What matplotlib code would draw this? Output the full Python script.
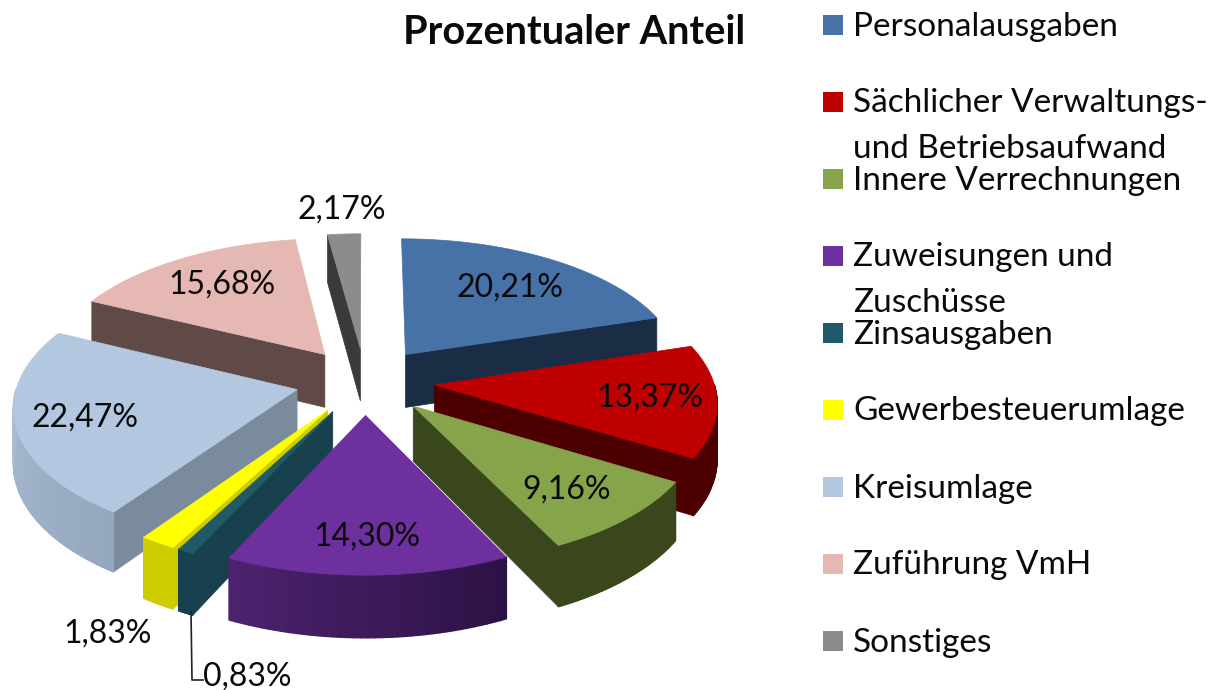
import numpy as np
from matplotlib import pyplot as plt
from matplotlib.collections import PolyCollection
from matplotlib.patches import Polygon, Rectangle

plt.rcParams['font.family'] = ['Lato', 'DejaVu Sans']

title = 'Prozentualer Anteil'
categories = ['Personalausgaben', 'Sächlicher Verwaltungs-\nund Betriebsaufwand', 'Innere Verrechnungen',
              'Zuweisungen und\nZuschüsse', 'Zinsausgaben', 'Gewerbesteuerumlage', 'Kreisumlage',
              'Zuführung VmH', 'Sonstiges']
values = [20.21, 13.37, 9.16, 14.30, 0.83, 1.83, 22.47, 15.68, 2.17]
labels = ['20,21%', '13,37%', '9,16%', '14,30%', '0,83%', '1,83%', '22,47%', '15,68%', '2,17%']
label_pos = [(510, 288), (650, 398), (567, 490), (367, 537), (247, 677), (108, 634), (85, 418), (222, 285), (342, 210)]

top_colors = ['#4672a8', '#bf0000', '#86a44a', '#6e2f9f', '#215968', '#ffff00', '#b3c8e0', '#e6b8b4', '#8c8c8c']
wall_colors = ['#1a2d45', '#4d0000', '#3a471c', '#3a1a5c', '#17414e', '#cccc00', '#7a8b9e', '#5f4a47', '#3a3a3a']
rim_left = ['#1a2d45', '#4d0000', '#3a471c', '#4e2370', '#17414e', '#cccc00', '#a9bbd2', '#5f4a47', '#3a3a3a']
rim_right = ['#1a2d45', '#4d0000', '#3a471c', '#2b1245', '#17414e', '#cccc00', '#94a7bf', '#5f4a47', '#3a3a3a']

# Pie geometry in picture pixels, with a simple perspective towards the viewer
CX, CY = 365, 381
SX, SY = 279, 134
PERSP = 0.11
EXPLODE = 0.25
DEPTH = 54


def project(x, y, z=0):
    s = 1 / (1 - PERSP * y)
    return CX + SX * x * s, CY + SY * y * s + z * DEPTH * s


def arc(apex, a, b, z=0, n=60):
    t = np.linspace(a, b, n)
    return project(apex[0] + np.sin(t), apex[1] - np.cos(t), z)


def wall(apex, ang):
    x = [apex[0], apex[0] + np.sin(ang)]
    y = [apex[1], apex[1] - np.cos(ang)]
    px1, py1 = project(np.array(x), np.array(y))
    px2, py2 = project(np.array(x), np.array(y), 1)
    return np.column_stack([np.r_[px1, px2[::-1]], np.r_[py1, py2[::-1]]])


def hex2rgb(c):
    return np.array([int(c[i:i + 2], 16) / 255 for i in (1, 3, 5)])


def draw_slice(ax, i, a, b):
    mid = (a + b) / 2
    apex = (EXPLODE * np.sin(mid), -EXPLODE * np.cos(mid))
    # side walls, only the ones facing the viewer
    if np.sin(a) < 0:
        ax.add_patch(Polygon(wall(apex, a), fc=wall_colors[i], ec=wall_colors[i], lw=0.5))
    if np.sin(b) > 0:
        ax.add_patch(Polygon(wall(apex, b), fc=wall_colors[i], ec=wall_colors[i], lw=0.5))
    # outer rim for the front half
    lo, hi = max(a, np.pi / 2), min(b, 3 * np.pi / 2)
    if hi > lo:
        t = np.linspace(lo, hi, 41)
        tx, ty = arc(apex, lo, hi, 0, 41)
        bx, by = arc(apex, lo, hi, 1, 41)
        c_r, c_l = hex2rgb(rim_right[i]), hex2rgb(rim_left[i])
        # solid base first, otherwise the seams between the strips show up
        base = np.column_stack([np.r_[tx, bx[::-1]], np.r_[ty, by[::-1]]])
        ax.add_patch(Polygon(base, fc=(c_r + c_l) / 2, ec='none'))
        quads, cols = [], []
        for k in range(40):
            quads.append([(tx[k], ty[k]), (tx[k + 1], ty[k + 1]), (bx[k + 1], by[k + 1]), (bx[k], by[k])])
            f = (t[k] - lo) / (hi - lo)
            cols.append(c_r + (c_l - c_r) * f)
        ax.add_collection(PolyCollection(quads, facecolors=cols, edgecolors=cols, linewidths=1.0))
    # top face
    ax_, ay_ = project(apex[0], apex[1])
    px, py = arc(apex, a, b)
    pts = np.column_stack([np.r_[ax_, px], np.r_[ay_, py]])
    ax.add_patch(Polygon(pts, fc=top_colors[i], ec=top_colors[i], lw=0.5))


def main():
    fig = plt.figure(figsize=(12.22, 6.9), dpi=100)
    ax = fig.add_axes([0, 0, 1, 1])
    ax.set_xlim(0, 1222)
    ax.set_ylim(690, 0)
    ax.axis('off')

    edges = np.cumsum([0] + values) / sum(values) * 2 * np.pi
    mids = (edges[:-1] + edges[1:]) / 2
    # back slices first so the front ones paint over them
    order = np.argsort(-np.abs(mids - np.pi))
    for i in order:
        draw_slice(ax, i, edges[i], edges[i + 1])

    # leader line of the smallest slice
    ax.plot([191, 192, 203], [612, 680, 680], color='#222222', lw=1.2)

    for i in range(len(labels)):
        ax.text(label_pos[i][0], label_pos[i][1], labels[i], fontsize=23, color='#0a0a0a', ha='center', va='center')

    ax.text(574, 33, title, fontsize=28.5, fontweight='bold', color='#0a0a0a', ha='center', va='center')

    # legend, rows on a fixed pitch, wrapped labels run into the next row like in the original
    for i in range(len(categories)):
        y = 25 + 77 * i
        ax.add_patch(Rectangle((823, y - 10), 20, 20, fc=top_colors[i], ec='none'))
        for j, line in enumerate(categories[i].split('\n')):
            ax.text(853, y + 1.5 + 45 * j, line, fontsize=24, color='#0a0a0a', ha='left', va='center')

    fig.savefig('out.png', dpi=100)


if __name__ == '__main__':
    main()
